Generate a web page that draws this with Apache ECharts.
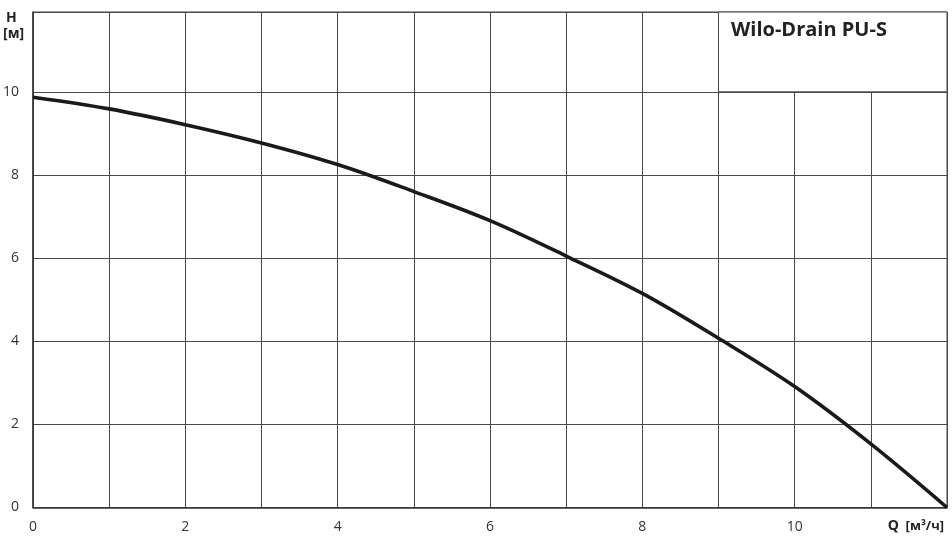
<!DOCTYPE html>
<html>
<head>
<meta charset="utf-8">
<script src="https://cdn.jsdelivr.net/npm/echarts@6/dist/echarts.min.js"></script>
<style>html,body{margin:0;padding:0;background:#fff;}#c{width:952px;height:560px;}</style>
</head>
<body>
<div id="c"></div>
<script>
// Flow Q [m³/h] and head H [m]
const flowQ = [0, 1, 2, 3, 4, 5, 6, 7, 8, 9, 10, 11, 12];
const headH = [9.87, 9.59, 9.21, 8.77, 8.25, 7.60, 6.90, 6.05, 5.15, 4.07, 2.91, 1.53, 0];
const xTickLabels = [0, 2, 4, 6, 8, 10];
const yTickLabels = [0, 2, 4, 6, 8, 10];
const titleText = 'Wilo-Drain PU-S';
const xMax = 12, yMax = 11.92;
const boxFrom = [9, 10];

const chart = echarts.init(document.getElementById('c'), null, {renderer: 'canvas'});
const FONT = "'Open Sans', 'Noto Sans', sans-serif";
chart.setOption({
  animation: false,
  backgroundColor: '#fff',
  grid: {left: 33, right: 5, top: 12, bottom: 52.5, show: true, borderColor: '#444', borderWidth: 1},
  xAxis: {
    type: 'value', min: 0, max: xMax, interval: 1,
    axisLine: {show: true, lineStyle: {color: '#333', width: 1.5}},
    axisTick: {show: false},
    splitLine: {show: true, lineStyle: {color: '#4a4a4a', width: 1}},
    axisLabel: {
      margin: 13, fontSize: 14, color: '#333', fontFamily: FONT,
      formatter: v => xTickLabels.indexOf(v) >= 0 ? String(v) : ''
    }
  },
  yAxis: {
    type: 'value', min: 0, max: yMax, interval: 2,
    axisLine: {show: true, lineStyle: {color: '#333', width: 1.5}},
    axisTick: {show: false},
    splitLine: {show: true, lineStyle: {color: '#4a4a4a', width: 1}},
    axisLabel: {
      margin: 14, fontSize: 14, color: '#333', fontFamily: FONT,
      formatter: v => yTickLabels.indexOf(v) >= 0 ? String(v) : ''
    }
  },
  graphic: [
    {type: 'text', left: 6, top: 11, style: {text: 'H', font: "bold 14px 'Open Sans', sans-serif", fill: '#222'}},
    {type: 'text', left: 3, top: 27, style: {text: '[м]', font: "bold 14px 'Open Sans', sans-serif", fill: '#222'}},
    {type: 'text', right: 8, top: 519, style: {rich: {q: {font: "bold 14px 'Open Sans', sans-serif", fill: '#222'}, u: {font: "bold 13px 'Open Sans', sans-serif", fill: '#222'}}, text: '{q|Q}  {u|[м³/ч]}'}}
  ],
  series: [{
    type: 'line',
    data: flowQ.map((q, i) => [q, headH[i]]),
    smooth: 0.35,
    showSymbol: false,
    lineStyle: {color: '#1a1a1a', width: 3.6},
    markArea: {
      silent: true,
      itemStyle: {color: '#fff', borderColor: '#444', borderWidth: 1},
      label: {
        show: true, position: [13, 9], color: '#222', fontSize: 20,
        fontWeight: 'bold', fontFamily: FONT, formatter: titleText
      },
      data: [[{xAxis: boxFrom[0], yAxis: boxFrom[1]}, {xAxis: xMax, yAxis: yMax}]]
    }
  }]
});
</script>
</body>
</html>
